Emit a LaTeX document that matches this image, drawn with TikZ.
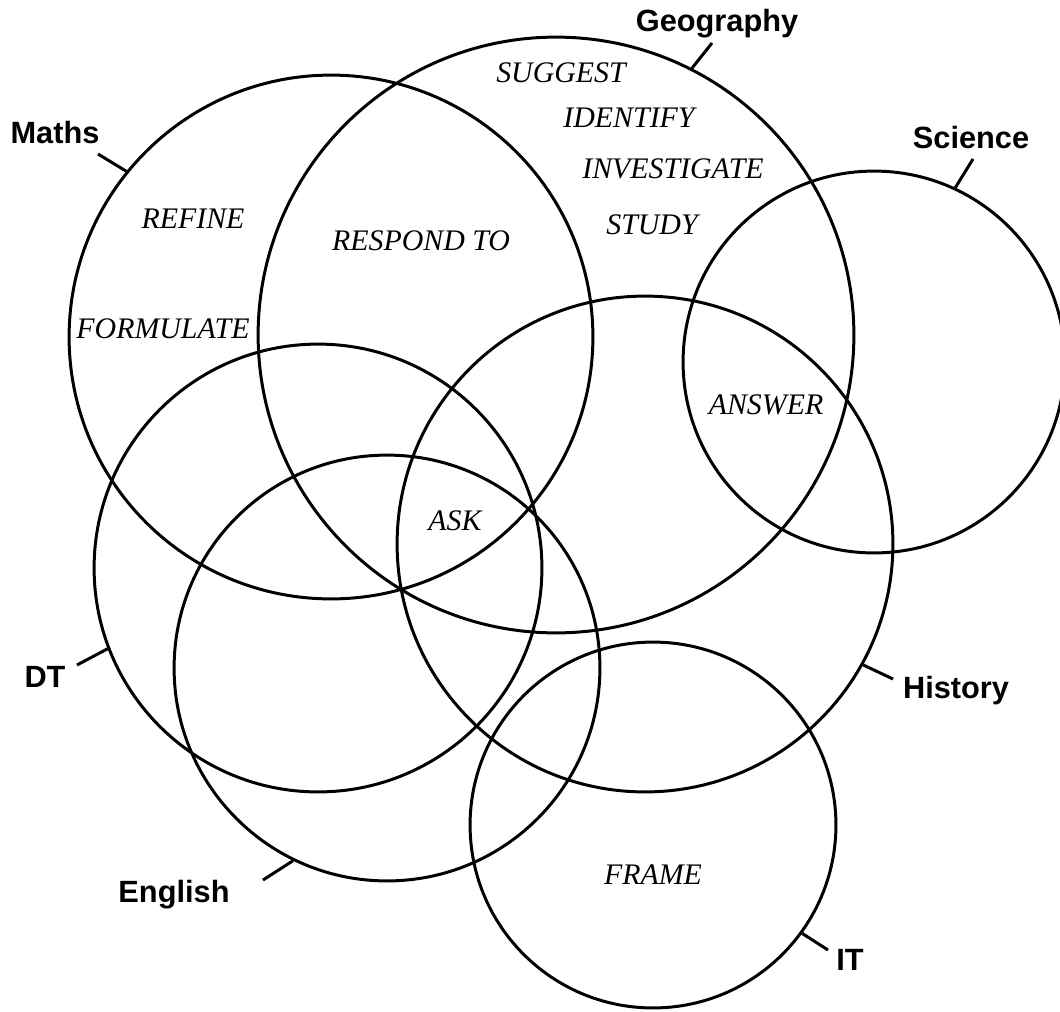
\documentclass[tikz,border=0pt]{standalone}
\usepackage{fontspec}
\setmainfont{Liberation Serif}
\setsansfont{Liberation Sans}
\usetikzlibrary{positioning}

\begin{document}
\begin{tikzpicture}[x=0.02cm,y=-0.02cm,
  set/.style={circle,draw,line width=1.7pt,inner sep=0pt,minimum size=#1*0.04cm},
  tick/.style={line width=1.7pt},
  subj/.style={font=\subjfont,anchor=base,inner sep=0pt},
  verb/.style={font=\verbfont,anchor=base,inner sep=0pt}]

\def\subjfont{\sffamily\bfseries\fontsize{17.5}{20}\selectfont}
\def\verbfont{\rmfamily\itshape\fontsize{17}{20}\selectfont}

\useasboundingbox (0,0) rectangle (1060,1011);

% the seven subjects
\node[set=262] (maths) at (331,337) {};
\node[set=298] (geog)  at (556,335) {};
\node[set=191] (sci)   at (874,362) {};
\node[set=248] (hist)  at (645,544) {};
\node[set=224] (dt)    at (318,568) {};
\node[set=213] (eng)   at (387,668) {};
\node[set=183] (it)    at (653,825) {};

% subject labels
\node[subj] (mathslab) at (55,143)  {Maths};
\node[subj] (geoglab)  at (717,31)  {Geography};
\node[subj] (scilab)   at (971,148) {Science};
\node[subj] (histlab)  at (956,698) {History};
\node[subj] (dtlab)    at (45,687)  {DT};
\node[subj] (englab)   at (174,902) {English};
\node[subj] (itlab)    at (850,970) {IT};

\coordinate (mathsend) at (98,154);
\coordinate (geogend)  at (712,43);
\coordinate (sciend)   at (973,159);
\coordinate (histend)  at (893,679);
\coordinate (dtend)    at (77,665);
\coordinate (engend)   at (263,880);
\coordinate (itend)    at (828,950);

\draw[tick] (maths.141.5) -- (mathsend);
\draw[tick] (geog.63)     -- (geogend);
\draw[tick] (sci.65.3)    -- (sciend);
\draw[tick] (hist.-29.7)  -- (histend);
\draw[tick] (dt.201)      -- (dtend);
\draw[tick] (eng.244.3)   -- (engend);
\draw[tick] (it.-36.7)    -- (itend);

% verbs
\node[verb] (suggest)  at (561,82)  {SUGGEST};
\node[verb] (identify) at (629,127) {IDENTIFY};
\node[verb] (investig) at (673,178) {INVESTIGATE};
\node[verb] (study)    at (652,234) {STUDY};
\node[verb] (refine)   at (193,228) {REFINE};
\node[verb] (respond)  at (421,250) {RESPOND TO};
\node[verb] (formul)   at (163,338) {FORMULATE};
\node[verb] (answer)   at (766,414) {ANSWER};
\node[verb] (ask)      at (455,530) {ASK};
\node[verb] (frame)    at (653,884) {FRAME};
\end{tikzpicture}
\end{document}
